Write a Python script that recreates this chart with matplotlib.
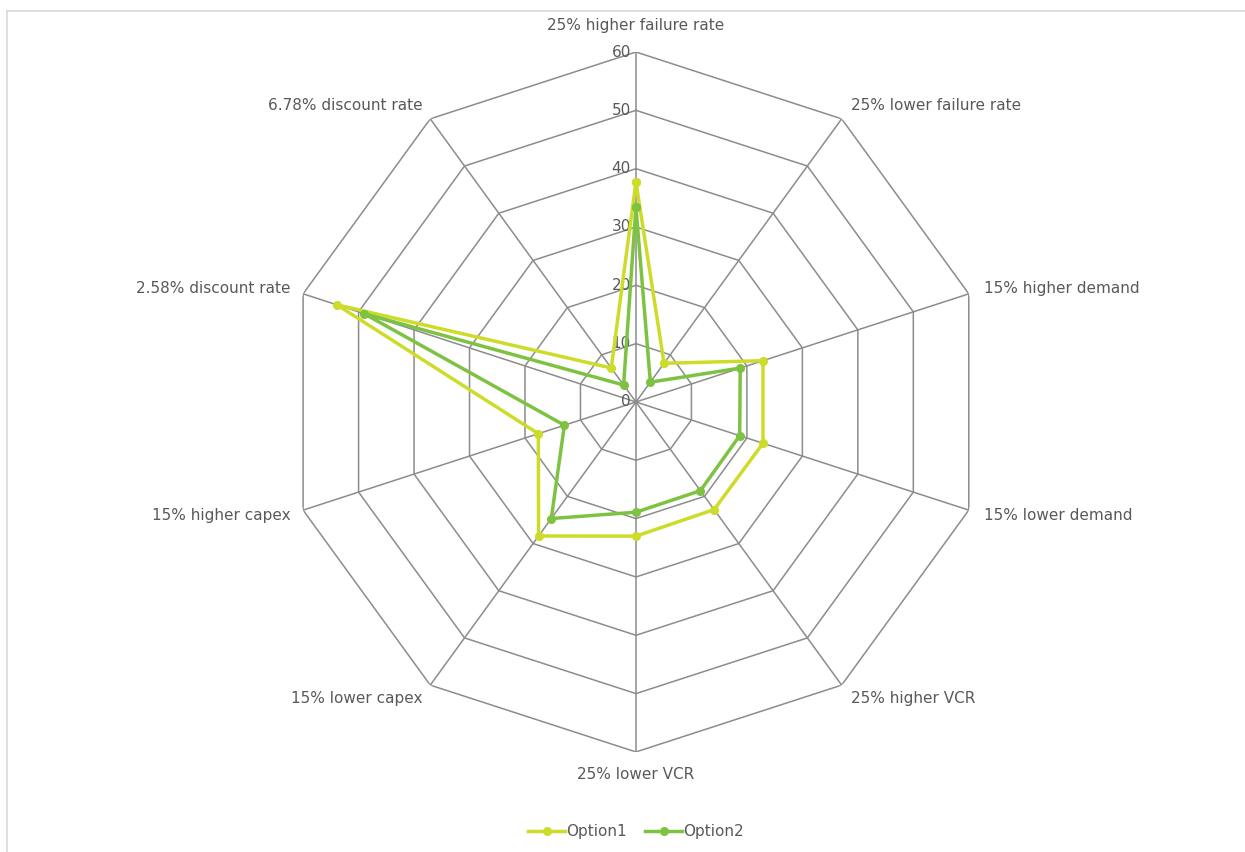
import numpy as np
import matplotlib
matplotlib.use("Agg")
import matplotlib.pyplot as plt

# --------------------------------------------------------------------------------------------------
# DATA:
categories = [
    "25% higher failure rate",
    "25% lower failure rate",
    "15% higher demand",
    "15% lower demand",
    "25% higher VCR",
    "25% lower VCR",
    "15% lower capex",
    "15% higher capex",
    "2.58% discount rate",
    "6.78% discount rate",
]
option1 = [37.7, 8.2, 22.9, 22.9, 22.8, 23.0, 28.4, 17.6, 53.9, 7.2]
option2 = [33.4, 4.2, 18.8, 18.7, 18.8, 18.9, 24.7, 12.9, 49.0, 3.6]
r_ticks = [0, 10, 20, 30, 40, 50, 60]

# --------------------------------------------------------------------------------------------------
# STYLE:
COL1 = "#CDDC29"
COL2 = "#7EC241"
GRID = "#8C8C8C"
TEXT = "#595959"
FS = 11
PX = 0.72  # points per pixel at dpi 100
plt.rcParams["font.family"] = ["DejaVu Sans"]

n = len(categories)
theta = np.arange(n) * 2 * np.pi / n
theta_closed = np.append(theta, theta[0])

fig = plt.figure(figsize=(12.45, 8.52), dpi=100)
ax = fig.add_axes([0.2297, 0.1174, 0.5622, 0.8216], projection="polar")
ax.set_theta_zero_location("N")
ax.set_theta_direction(-1)
ax.set_ylim(0, r_ticks[-1])
ax.grid(False)
ax.spines["polar"].set_visible(False)
ax.set_xticks([])
ax.set_yticks([])
ax.patch.set_alpha(0)

# polygon grid
for r in r_ticks[1:]:
    ax.plot(theta_closed, [r] * (n + 1), color=GRID, lw=1.1, zorder=1)
for t in theta:
    ax.plot([t, t], [0, r_ticks[-1]], color=GRID, lw=1.1, zorder=1)

# radial tick labels
for r in r_ticks:
    ax.annotate(str(r), xy=(0, r), xytext=(-5 * PX, 0), textcoords="offset points",
                ha="right", va="center", fontsize=FS, color=TEXT)

# category labels
for t, lab in zip(theta, categories):
    s, c = np.sin(t), np.cos(t)
    dy = 16 * c
    if abs(s) < 0.05:
        ha = "center"
        dx = 0
        dy += 11 if c > 0 else -7
    elif s > 0:
        ha = "left"
        dx = 16 * s
    else:
        ha = "right"
        dx = 13 * s
    ax.annotate(lab, xy=(t, r_ticks[-1]), xytext=(dx * PX, dy * PX),
                textcoords="offset points", ha=ha, va="center",
                fontsize=FS, color=TEXT, annotation_clip=False)

# series
ax.plot(theta_closed, option1 + option1[:1], color=COL1, lw=2.5, marker="o",
        markersize=5.5, label="Option1", zorder=3)
ax.plot(theta_closed, option2 + option2[:1], color=COL2, lw=2.5, marker="o",
        markersize=5.5, label="Option2", zorder=4)

fig.legend(loc="center", bbox_to_anchor=(0.511, 0.0235), ncol=2, frameon=False,
           fontsize=FS, labelcolor=TEXT, handlelength=2.4, handletextpad=0.1,
           columnspacing=1.2)

# light chart border
fig.add_artist(plt.Line2D([7 / 1245, 7 / 1245], [0, 1 - 11 / 852], color="#D9D9D9", lw=1.2))
fig.add_artist(plt.Line2D([7 / 1245, 1], [1 - 11 / 852, 1 - 11 / 852], color="#D9D9D9", lw=1.2))

fig.savefig("out.png", dpi=100)
